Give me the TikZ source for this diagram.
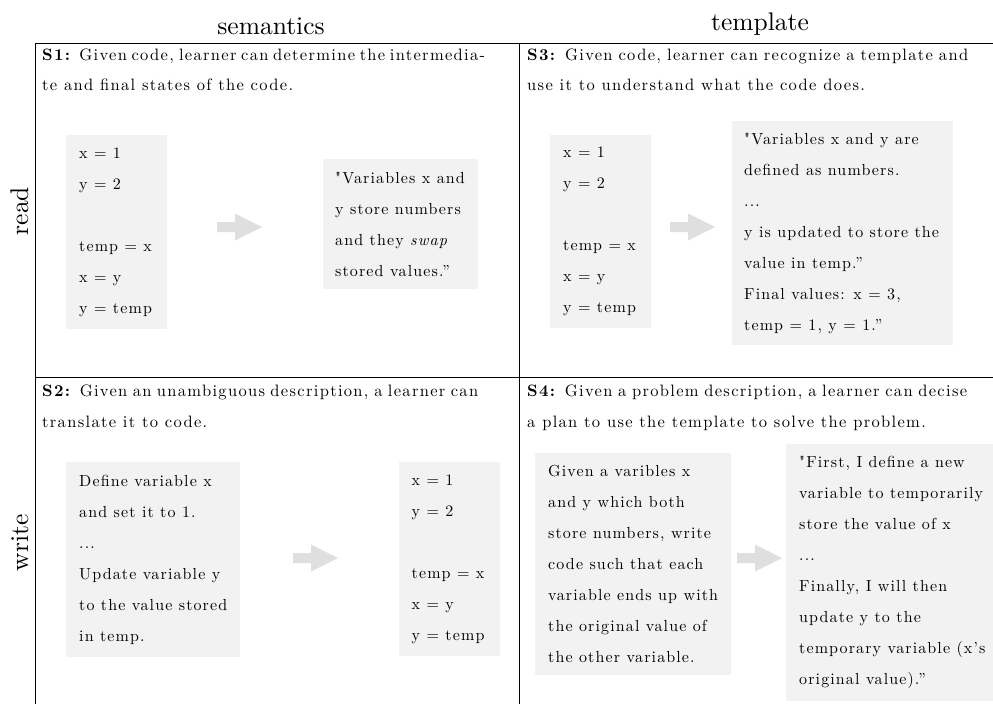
\documentclass[tikz,border=0pt]{standalone}
\usepackage{fontspec}
\setmainfont{lmroman10}[Extension=.otf, UprightFont=*-regular, BoldFont=*-bold, ItalicFont=*-italic]
\newfontfamily\bodyfont{lmroman10}[Extension=.otf, UprightFont=*-regular, BoldFont=*-bold, ItalicFont=*-italic, LetterSpace=7]
\newfontfamily\headfont{lmroman10}[Extension=.otf, UprightFont=*-regular, BoldFont=*-bold, ItalicFont=*-italic, LetterSpace=8]
\definecolor{boxgray}{HTML}{F2F2F2}
\definecolor{arrowgray}{HTML}{DFDFDF}
\tikzset{
  gbox/.style={fill=boxgray, draw=none, inner sep=0pt, anchor=north west},
  btext/.style={font=\bodyfont\fontsize{16}{31}\selectfont, align=left, inner sep=0pt, anchor=west},
  htext/.style={font=\headfont\fontsize{16.5}{31}\selectfont, inner sep=0pt, anchor=base west},
  coltitle/.style={font=\fontsize{25.5}{30}\selectfont, inner sep=0pt, anchor=base},
  rowtitle/.style={font=\fontsize{25.5}{30}\selectfont, inner sep=0pt, anchor=base, rotate=90},
  gridline/.style={line width=0.8pt, draw=black},
  pics/fatarrow/.style={code={
    \fill[arrowgray] (0,-5) -- (18,-5) -- (18,-13.5) -- (45,0) -- (18,13.5) -- (18,5) -- (0,5) -- cycle;}}
}
\begin{document}
\begin{tikzpicture}[x=1pt, y=-1pt]
\useasboundingbox (0,0) rectangle (993,704);
% grid
\coordinate (tl) at (35,43);
\coordinate (tr) at (993,43);
\coordinate (bl) at (35,704);
\coordinate (tm) at (519,43);
\coordinate (bm) at (519,704);
\coordinate (ml) at (35,377);
\coordinate (mr) at (993,377);
\draw[gridline] (tr) -- (tl) -- (bl);
\draw[gridline] (tm) -- (bm);
\draw[gridline] (ml) -- (mr);
% titles
\node[coltitle] (colA) at (271,34) {semantics};
\node[coltitle] (colB) at (760,30) {template};
\node[rowtitle] (rowA) at (28,211) {read};
\node[rowtitle] (rowB) at (28,543) {write};
% cell headers
\node[htext] (s1a) at (42,60) {\makebox[443pt][s]{\textbf{S1:} Given code, learner can determine the intermedia-}};
\node[htext] (s1b) at (42,90) {te and final states of the code.};
\node[htext] (s3a) at (527,60) {\makebox[441pt][s]{\textbf{S3:} Given code, learner can recognize a template and}};
\node[htext] (s3b) at (527,90) {use it to understand what the code does.};
\node[htext] (s2a) at (42,396) {\makebox[436pt][s]{\textbf{S2:} Given an unambiguous description, a learner can}};
\node[htext] (s2b) at (42,427) {translate it to code.};
\node[htext] (s4a) at (527,396) {\makebox[440pt][s]{\textbf{S4:} Given a problem description, a learner can decise}};
\node[htext] (s4b) at (527,427) {a plan to use the template to solve the problem.};
% S1
\node[gbox, minimum width=101pt, minimum height=194pt] (b1) at (66,135) {};
\node[btext] (t1) at ([xshift=13pt]b1.west) {x = 1\\y = 2\\[31pt]temp = x\\x = y\\y = temp};
\pic at (217,227) {fatarrow};
\node[gbox, minimum width=155pt, minimum height=130pt] (b2) at (323,159) {};
\node[btext] (t2) at ([xshift=12pt]b2.west) {"Variables x and\\y store numbers\\and they \textit{swap}\\stored values.”};
% S3
\node[gbox, minimum width=101pt, minimum height=193pt] (b3) at (550,135) {};
\node[btext] (t3) at ([xshift=13pt]b3.west) {x = 1\\y = 2\\[31pt]temp = x\\x = y\\y = temp};
\pic at (670,227) {fatarrow};
\node[gbox, minimum width=221pt, minimum height=224pt] (b4) at (732,121) {};
\node[btext] (t4) at ([xshift=12pt]b4.west) {"Variables x and y are\\defined as numbers.\\...\\y is updated to store the\\value in temp.”\\Final values: x = 3,\\temp = 1, y = 1.”};
% S2
\node[gbox, minimum width=174pt, minimum height=195pt] (b5) at (66,462) {};
\node[btext] (t5) at ([xshift=13pt]b5.west) {Define variable x\\and set it to 1.\\...\\Update variable y\\to the value stored\\in temp.};
\pic at (293,558) {fatarrow};
\node[gbox, minimum width=101pt, minimum height=194pt] (b6) at (399,462) {};
\node[btext] (t6) at ([xshift=12.5pt]b6.west) {x = 1\\y = 2\\[31pt]temp = x\\x = y\\y = temp};
% S4
\node[gbox, minimum width=196pt, minimum height=222pt] (b7) at (535,453) {};
\node[btext] (t7) at ([xshift=13pt]b7.west) {Given a varibles x\\and y which both\\store numbers, write\\code such that each\\variable ends up with\\the original value of\\the other variable.};
\pic at (737,558) {fatarrow};
\node[gbox, minimum width=207pt, minimum height=257pt] (b8) at (786,444) {};
\node[btext] (t8) at ([xshift=13pt]b8.west) {"First, I define a new\\variable to temporarily\\store the value of x\\...\\Finally, I will then\\update y to the\\temporary variable (x’s\\original value).”};
\end{tikzpicture}
\end{document}
